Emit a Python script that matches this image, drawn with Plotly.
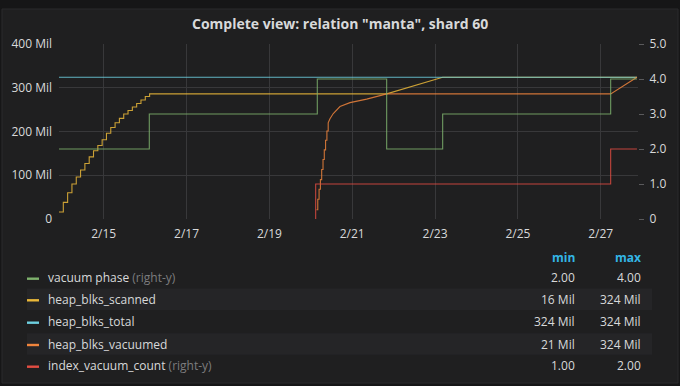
import plotly.graph_objects as go

# ---------------- data ----------------
T_START = "2018-02-13 22:06"
T_END = "2018-02-27 21:00"
X_RANGE = ["2018-02-13 22:06", "2018-02-27 21:36"]

# vacuum phase (right axis)
phase_times = ["2018-02-13 22:06", "2018-02-16 02:25", "2018-02-20 03:46",
               "2018-02-21 19:58", "2018-02-23 04:25", "2018-02-27 05:46", "2018-02-27 21:00"]
phase_values = [2, 3, 4, 2, 3, 4, 4]
phase_kinds = "ssssssl"

# heap_blks_scanned (millions)
scanned_times = ["2018-02-13 22:06", "2018-02-14 00:36", "2018-02-14 03:06", "2018-02-14 05:36",
                 "2018-02-14 08:06", "2018-02-14 10:36", "2018-02-14 13:06", "2018-02-14 15:36",
                 "2018-02-14 18:06", "2018-02-14 20:36", "2018-02-14 23:06", "2018-02-15 01:36",
                 "2018-02-15 04:06", "2018-02-15 06:36", "2018-02-15 09:06", "2018-02-15 11:36",
                 "2018-02-15 14:06", "2018-02-15 16:36", "2018-02-15 19:06", "2018-02-15 21:36",
                 "2018-02-16 00:06", "2018-02-16 02:36", "2018-02-21 19:58", "2018-02-23 04:25",
                 "2018-02-27 21:00"]
scanned_values = [16, 38, 60, 80, 96, 112, 127, 142, 156, 168, 181, 196, 209, 220, 230, 240,
                  248, 256, 264, 272, 280, 286, 286, 324, 324]
scanned_kinds = "s" * 22 + "lll"

# heap_blks_total (millions)
total_times = [T_START, T_END]
total_values = [324, 324]
total_kinds = "sl"

# heap_blks_vacuumed (millions)
vacuumed_times = ["2018-02-20 03:18", "2018-02-20 04:03", "2018-02-20 04:48", "2018-02-20 05:34",
                  "2018-02-20 06:19", "2018-02-20 07:05", "2018-02-20 07:49", "2018-02-20 08:34",
                  "2018-02-20 09:20", "2018-02-20 10:05", "2018-02-20 11:07", "2018-02-20 13:02",
                  "2018-02-20 16:55", "2018-02-20 22:42", "2018-02-21 08:23", "2018-02-21 19:58",
                  "2018-02-27 05:46", "2018-02-27 21:00"]
vacuumed_values = [21, 45, 68, 90, 113, 136, 158, 180, 201, 220, 229, 241, 257, 266, 274, 286, 286, 324]
vacuumed_kinds = "s" * 10 + "l" * 8

# index_vacuum_count (right axis)
index_times = ["2018-02-20 02:50", "2018-02-20 02:50", "2018-02-27 05:46", "2018-02-27 21:00"]
index_values = [0, 1, 2, 2]
index_kinds = "sssl"

series_names = ["vacuum phase", "heap_blks_scanned", "heap_blks_total", "heap_blks_vacuumed", "index_vacuum_count"]
series_colors = ["#7EB26D", "#EAB839", "#6ED0E0", "#EF843C", "#E24D42"]
series_right = [True, False, False, False, True]
legend_min = ["2.00", "16 Mil", "324 Mil", "21 Mil", "1.00"]
legend_max = ["4.00", "324 Mil", "324 Mil", "324 Mil", "2.00"]

left_tickvals = [0, 100, 200, 300, 400]
left_ticktext = ["0", "100 Mil", "200 Mil", "300 Mil", "400 Mil"]
right_tickvals = [0, 1, 2, 3, 4, 5]
right_ticktext = ["0", "1.0", "2.0", "3.0", "4.0", "5.0"]
x_tickvals = ["2018-02-15", "2018-02-17", "2018-02-19", "2018-02-21", "2018-02-23", "2018-02-25", "2018-02-27"]
x_ticktext = ["2/15", "2/17", "2/19", "2/21", "2/23", "2/25", "2/27"]

TITLE = 'Complete view: relation "manta", shard 60'


def build(times, values, kinds, scale=1.0):
    xs, ys = [times[0]], [values[0] * scale]
    for t, v, k in zip(times[1:], values[1:], kinds[1:]):
        if k == "s":
            xs.append(t)
            ys.append(ys[-1])
        xs.append(t)
        ys.append(v * scale)
    return xs, ys


# ---------------- figure ----------------
W, H = 680, 386
L, R, T, B = 59, 638, 44, 219


def px(x):
    return (x - L) / (R - L)


def py(y):
    return (B - y) / (B - T)


FONT = "Open Sans"
TXT = "#d8d9da"
GRID = "#38383a"

fig = go.Figure()
data = [
    (phase_times, phase_values, phase_kinds, 1.0),
    (scanned_times, scanned_values, scanned_kinds, 1e6),
    (total_times, total_values, total_kinds, 1e6),
    (vacuumed_times, vacuumed_values, vacuumed_kinds, 1e6),
    (index_times, index_values, index_kinds, 1.0),
]
for (tt, vv, kk, sc), name, col, right in zip(data, series_names, series_colors, series_right):
    xs, ys = build(tt, vv, kk, sc)
    fig.add_trace(go.Scatter(x=xs, y=ys, mode="lines", name=name,
                             line=dict(color=col, width=1.1), opacity=0.85,
                             yaxis="y2" if right else "y", showlegend=False,
                             hoverinfo="skip"))

shapes = [
    dict(type="rect", xref="paper", yref="paper", x0=px(2), x1=px(678), y0=py(383), y1=py(9),
         fillcolor="#1f1f20", line=dict(color="#2a2a2c", width=1), layer="below"),
]
for yc in (299.3, 344.0):
    shapes.append(dict(type="rect", xref="paper", yref="paper", x0=px(27), x1=px(652),
                       y0=py(yc + 10.7), y1=py(yc - 10.7), fillcolor="#252527",
                       line=dict(width=0), layer="below"))

annotations = []
row_y = [277.7, 299.3, 321.7, 344.0, 365.7]
for i, yc in enumerate(row_y):
    shapes.append(dict(type="rect", xref="paper", yref="paper", x0=px(27), x1=px(39),
                       y0=py(yc + 2.2), y1=py(yc - 0.2), fillcolor=series_colors[i],
                       line=dict(width=0)))
    label = series_names[i]
    if series_right[i]:
        label += " <span style='color:#7c7c7e'>(right-y)</span>"
    annotations.append(dict(xref="paper", yref="paper", x=px(46), y=py(yc), text=label,
                            showarrow=False, xanchor="left", yanchor="middle",
                            font=dict(family=FONT, size=12, color=TXT)))
    annotations.append(dict(xref="paper", yref="paper", x=px(576.5), y=py(yc), text=legend_min[i],
                            showarrow=False, xanchor="right", yanchor="middle",
                            font=dict(family=FONT, size=12, color=TXT)))
    annotations.append(dict(xref="paper", yref="paper", x=px(642.5), y=py(yc), text=legend_max[i],
                            showarrow=False, xanchor="right", yanchor="middle",
                            font=dict(family=FONT, size=12, color=TXT)))
for txt, xr in (("min", 576.5), ("max", 642.5)):
    annotations.append(dict(xref="paper", yref="paper", x=px(xr), y=py(257.3), text="<b>%s</b>" % txt,
                            showarrow=False, xanchor="right", yanchor="middle",
                            font=dict(family=FONT, size=12, color="#33b5e5")))

annotations.append(dict(xref="paper", yref="paper", x=px(340), y=py(24), text="<b>%s</b>" % TITLE,
                        showarrow=False, xanchor="center", yanchor="middle",
                        font=dict(family=FONT, size=14, color=TXT)))

fig.update_layout(
    width=W, height=H,
    margin=dict(l=L, r=W - R, t=T, b=H - B, pad=0),
    paper_bgcolor="#161617",
    plot_bgcolor="rgba(0,0,0,0)",
    font=dict(family=FONT, size=12, color=TXT),
    shapes=shapes,
    annotations=annotations,
    xaxis=dict(type="date", range=X_RANGE, tickvals=x_tickvals, ticktext=x_ticktext,
               showgrid=True, gridcolor=GRID, gridwidth=1, zeroline=False, showline=False,
               ticks="", ticklabelstandoff=6, tickfont=dict(family=FONT, size=12, color=TXT)),
    yaxis=dict(range=[0, 400e6], tickvals=[v * 1e6 for v in left_tickvals], ticktext=left_ticktext,
               showgrid=True, gridcolor=GRID, gridwidth=1, zeroline=False, showline=False,
               ticks="", ticklabelstandoff=6, tickfont=dict(family=FONT, size=12, color=TXT)),
    yaxis2=dict(range=[0, 5], tickvals=right_tickvals, ticktext=right_ticktext, overlaying="y",
                side="right", showgrid=False, zeroline=False, showline=False,
                ticks="outside", ticklen=5, tickcolor="#5a5a5c", ticklabelstandoff=3,
                tickfont=dict(family=FONT, size=12, color=TXT)),
)

fig.write_html("out.html", config={"displayModeBar": False},
               post_script="document.body.style.margin='0';document.body.style.background='#161617';")
